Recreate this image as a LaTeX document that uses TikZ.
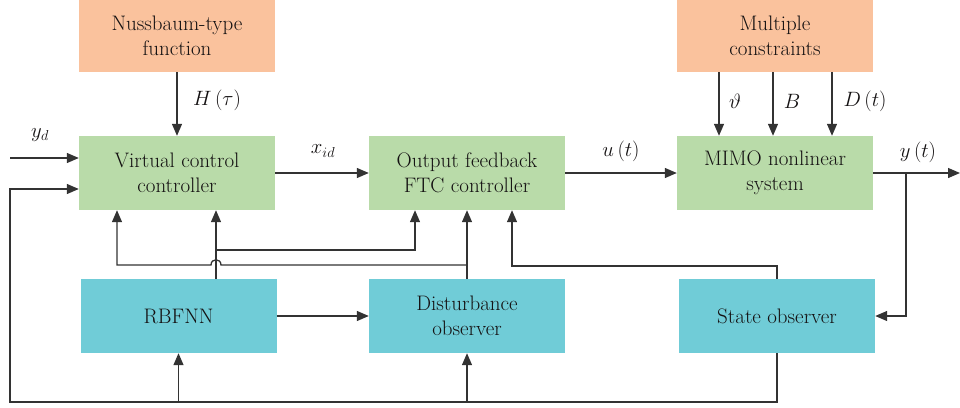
\documentclass[tikz,border=0pt]{standalone}
\usepackage{fontspec}
\setmainfont{Latin Modern Roman}
\usetikzlibrary{arrows.meta}
\definecolor{peachc}{HTML}{FAC29D}
\definecolor{greenc}{HTML}{B9DBA9}
\definecolor{cyanc}{HTML}{70CCD7}
\definecolor{linec}{HTML}{333333}
\definecolor{txtc}{HTML}{141112}
\begin{document}
\begin{tikzpicture}[x=1pt,y=-1pt,
  blk/.style={rectangle, minimum width=196pt, minimum height=74pt, align=center, inner sep=0pt, text=txtc, font=\fontsize{21}{25}\selectfont},
  peachbox/.style={blk, fill=peachc, minimum height=72pt},
  greenbox/.style={blk, fill=greenc},
  cyanbox/.style={blk, fill=cyanc},
  wire/.style={draw=linec, line width=1.3pt},
  conn/.style={wire, -{Triangle[length=12pt,width=10pt]}},
  lbl/.style={text=txtc, inner sep=0pt, font=\fontsize{20}{24}\selectfont}
]
\useasboundingbox (0,0) rectangle (960,407);
% blocks
\node[peachbox] (nuss)  at (177,36)  {Nussbaum-type\\function};
\node[peachbox] (multi) at (775,36)  {Multiple\\constraints};
\node[greenbox] (virt)  at (177,173) {Virtual control\\controller};
\node[greenbox] (ftc)   at (467,173) {Output feedback\\FTC controller};
\node[greenbox] (mimo)  at (775,173) {MIMO nonlinear\\system};
\node[cyanbox]  (rbf)   at (178.5,316) {RBFNN};
\node[cyanbox]  (dist)  at (467,316) {Disturbance\\observer};
\node[cyanbox]  (state) at (777,316) {State observer};
% free ends and junctions
\coordinate (yin)  at (10,158);
\coordinate (fbl)  at (10,402);
\coordinate (yout) at (960,173);
\coordinate (br)   at (906,173);
\coordinate (rtop) at (216,279);
\coordinate (j1)   at (216,250);
\coordinate (j2)   at (467,265);
\coordinate (j3)   at (777,266);
% top inputs
\draw[conn] (nuss) -- (virt);
\node[lbl, anchor=west] (hl) at (193,100) {$H\,(\tau)$};
\draw[conn] ([xshift=-56pt]multi.south) -- ([xshift=-56pt]mimo.north);
\draw[conn] ([xshift=-2pt]multi.south) -- ([xshift=-2pt]mimo.north);
\draw[conn] ([xshift=57pt]multi.south) -- ([xshift=57pt]mimo.north);
\node[lbl] (th) at (735,101) {$\vartheta$};
\node[lbl] (bl) at (792,101) {$B$};
\node[lbl] (dl) at (865,101) {$D\,(t)$};
% forward chain
\draw[conn] (yin) -- (yin -| virt.west);
\node[lbl] (ydl) at (40,135) {$y_d$};
\draw[conn] (virt) -- (ftc);
\node[lbl] (xl) at (323,151) {$x_{id}$};
\draw[conn] (ftc) -- (mimo);
\node[lbl] (ul) at (621,151) {$u\,(t)$};
\draw[conn] (mimo) -- (yout);
\node[lbl] (yl) at (918,152) {$y\,(t)$};
\draw[conn] (br) |- (state.east);
% feedback along bottom
\draw[conn] (state.south) |- (fbl) |- ([yshift=-16pt]virt.west);
\draw[conn] (rbf.south |- fbl) -- (rbf.south);
\draw[conn] (dist.south |- fbl) -- (dist.south);
% RBFNN outputs
\draw[conn] (rtop) -- (rtop |- virt.south);
\draw[conn] (j1) -| ([xshift=-52pt]ftc.south);
\draw[conn] (rbf) -- (dist);
% disturbance outputs
\draw[conn] (dist.north) -- (dist.north |- ftc.south);
\draw[conn] (j2) -- (221,265) .. controls (221,258) and (211,258) .. (211,265) -| ([xshift=-60pt]virt.south);
% state observer output
\draw[conn] (state.north) -- (j3) -| ([xshift=45pt]ftc.south);
\end{tikzpicture}
\end{document}
